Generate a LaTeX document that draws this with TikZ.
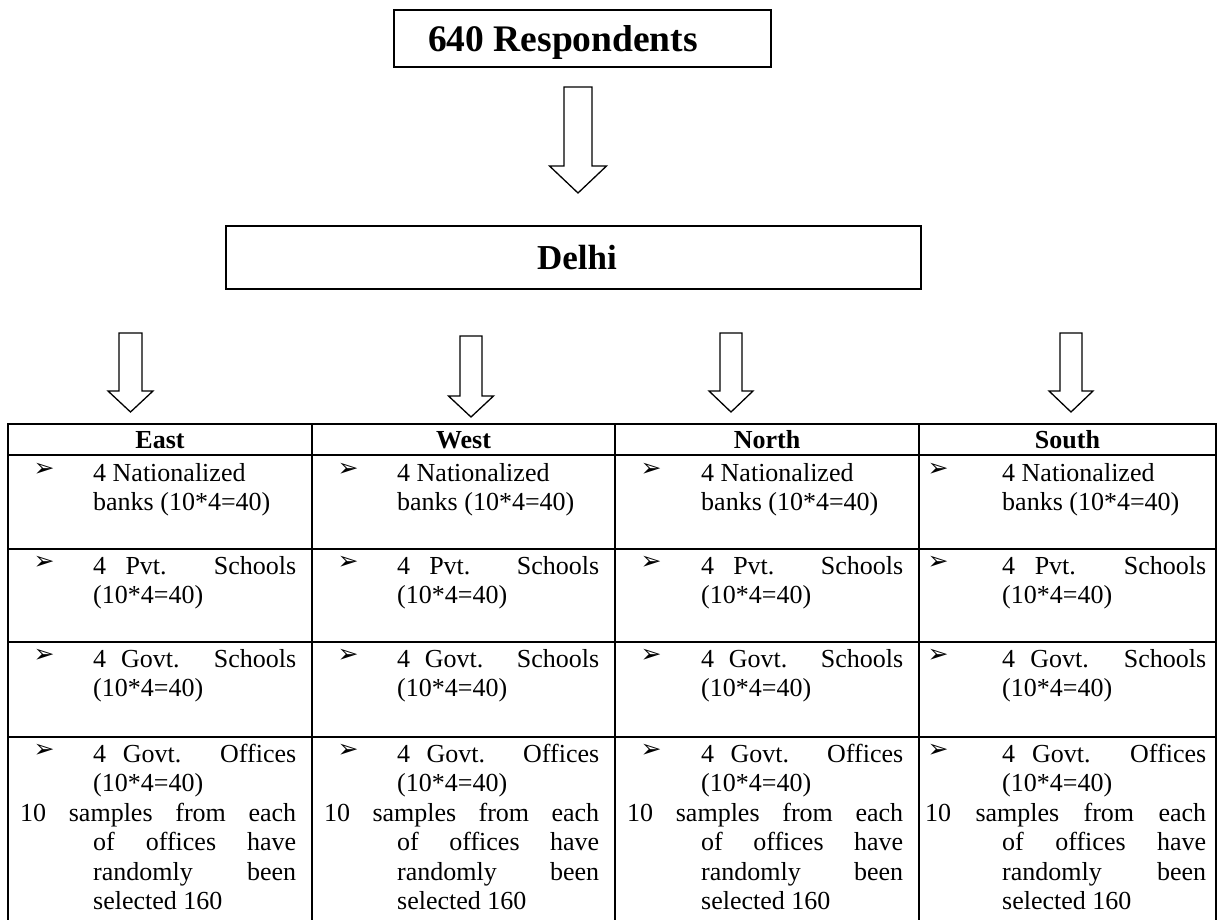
\documentclass[tikz,border=0pt]{standalone}
\usepackage{fontspec}
\setmainfont{Liberation Serif}
\newfontfamily\bulfont{DejaVu Sans}
\newcommand\bodyfont{\fontsize{26}{30}\selectfont}
\newcommand\bigfont{\fontsize{35}{40}\selectfont\bfseries}
\newcommand\blockarrow[6]{%
  \draw[arr] ({#1-#5},#2) -- ({#1+#5},#2) -- ({#1+#5},#3) -- ({#1+#6},#3) -- (#1,#4) -- ({#1-#6},#3) -- ({#1-#5},#3) -- cycle;}
\begin{document}
\begin{tikzpicture}[x=1pt,y=-1pt,
  box/.style={draw, line width=1.8pt, inner sep=0},
  arr/.style={draw, line width=1.3pt, line join=miter},
  tbl/.style={line width=2.2pt, line cap=rect},
  title/.style={font=\bigfont, inner sep=0, anchor=base},
  hdr/.style={font=\bodyfont\bfseries, inner sep=0, anchor=base},
  txt/.style={font=\bodyfont, inner sep=0, anchor=base west},
  bul/.style={font=\bulfont\fontsize{25}{25}\selectfont, inner sep=0, anchor=base},
]
\useasboundingbox (0,0) rectangle (1224,919);

% top boxes
\node[box, minimum width=377pt, minimum height=57pt] (resp) at (582.5,38.5) {};
\node[title, font=\fontsize{37.5}{40}\selectfont\bfseries] (resptxt) at (563,51) {640 Respondents};
\node[box, minimum width=695pt, minimum height=63pt] (delhi) at (573.5,257.5) {};
\node[title] (delhitxt) at (577,269) {Delhi};

% block arrows
\blockarrow{578}{87}{166}{193}{14}{28.5}
\blockarrow{130.5}{333}{391}{412}{11.5}{22.5}
\blockarrow{471}{336}{396}{417}{11}{22.5}
\blockarrow{731}{333}{391}{412}{11}{22}
\blockarrow{1071}{333}{391}{412}{11}{22}

% table grid
\foreach \y in {424,455,549,642,737} \draw[tbl] (8,\y) -- (1216,\y);
\foreach \x in {8,312,615,919,1216} \draw[tbl] (\x,424) -- (\x,922);

% headers
\node[hdr] (east) at (160,448) {East};
\node[hdr] (west) at (463.5,448) {West};
\node[hdr] (north) at (767,448) {North};
\node[hdr] (south) at (1067.5,448) {South};

% cells
\foreach \c/\B/\T/\R/\P in {1/44/93/296/20, 2/348/397/599/324, 3/651/701/903/627, 4/938/1002/1206/925}{
  \pgfmathsetmacro\W{\R-\T}
  \pgfmathsetmacro\WP{\R-\P}
  % row 1
  \node[bul] (ba\c) at (\B,476) {➢};
  \node[txt] (ra1\c) at (\T,481) {4 Nationalized};
  \node[txt] (ra2\c) at (\T,510.5) {banks (10*4=40)};
  % row 2
  \node[bul] (bb\c) at (\B,569) {➢};
  \node[txt] (rb1\c) at (\T,574) {\makebox[\W pt][s]{4 Pvt. Schools}};
  \node[txt] (rb2\c) at (\T,603.5) {(10*4=40)};
  % row 3
  \node[bul] (bc\c) at (\B,662) {➢};
  \node[txt] (rc1\c) at (\T,667) {\makebox[\W pt][s]{4 Govt. Schools}};
  \node[txt] (rc2\c) at (\T,696.5) {(10*4=40)};
  % row 4
  \node[bul] (bd\c) at (\B,757) {➢};
  \node[txt] (rd1\c) at (\T,762) {\makebox[\W pt][s]{4 Govt. Offices}};
  \node[txt] (rd2\c) at (\T,791.5) {(10*4=40)};
  \node[txt] (rd3\c) at (\P,821) {\makebox[\WP pt][s]{10 samples from each}};
  \node[txt] (rd4\c) at (\T,850.5) {\makebox[\W pt][s]{of offices have}};
  \node[txt] (rd5\c) at (\T,880) {\makebox[\W pt][s]{randomly been}};
  \node[txt] (rd6\c) at (\T,909.5) {selected 160};
}
\end{tikzpicture}
\end{document}
